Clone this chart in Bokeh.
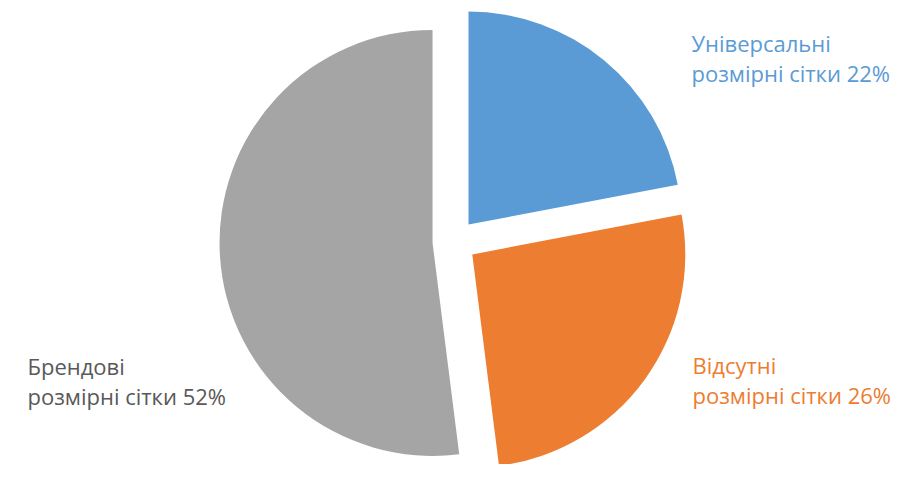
import numpy as np
from bokeh.plotting import figure
from bokeh.models import Range1d, ColumnDataSource
from bokeh.core.properties import value
from bokeh.embed import file_html
from bokeh.resources import INLINE

# ---- data ----
categories = ["Універсальні розмірні сітки", "Відсутні розмірні сітки", "Брендові розмірні сітки"]
label_first = ["Універсальні", "Відсутні", "Брендові"]
label_second = ["розмірні сітки", "розмірні сітки", "розмірні сітки"]
shares = [22, 26, 52]
colors = ["#5B9BD5", "#ED7D31", "#A5A5A5"]
text_colors = ["#5B9BD5", "#ED7D31", "#595959"]

# ---- layout (plot units == pixels, y up) ----
W, H = 900, 464
cx, cy = 454.0, 223.0
radius = 213.0
explode = 22.0

vals = np.array(shares, dtype=float)
frac = vals / vals.sum()
cum_end = np.cumsum(frac)
cum_start = cum_end - frac
# clockwise from 12 o'clock
start_angle = np.deg2rad(90 - 360 * cum_end)
end_angle = np.deg2rad(90 - 360 * cum_start)
mid = (start_angle + end_angle) / 2
xs = cx + explode * np.cos(mid)
ys = cy + explode * np.sin(mid)

src = ColumnDataSource(dict(x=xs, y=ys, start=start_angle, end=end_angle, color=colors))

p = figure(width=W, height=H, x_range=Range1d(0, W), y_range=Range1d(0, H),
           output_backend="svg", toolbar_location=None, min_border=0)
p.axis.visible = False
p.grid.visible = False
p.outline_line_color = None
p.background_fill_color = "white"
p.border_fill_color = "white"

p.wedge(x="x", y="y", radius=radius, start_angle="start", end_angle="end",
        fill_color="color", line_color=None, source=src)

# label anchors (left x, first-line baseline) in plot units
label_x = [691, 692, 27]
label_y = [H - 42, H - 364, H - 365]
line_gap = 30.5

line1 = label_first
line2 = [f"{s} {v}%" for s, v in zip(label_second, shares)]
tsrc = ColumnDataSource(dict(
    x=label_x + label_x,
    y=label_y + [yy - line_gap for yy in label_y],
    text=line1 + line2,
    color=text_colors + text_colors,
))
p.text(x="x", y="y", text="text", text_color="color", source=tsrc,
       text_font=value("Open Sans"), text_font_size="22px",
       text_align="left", text_baseline="alphabetic")

open("out.html", "w").write(file_html(p, INLINE))
